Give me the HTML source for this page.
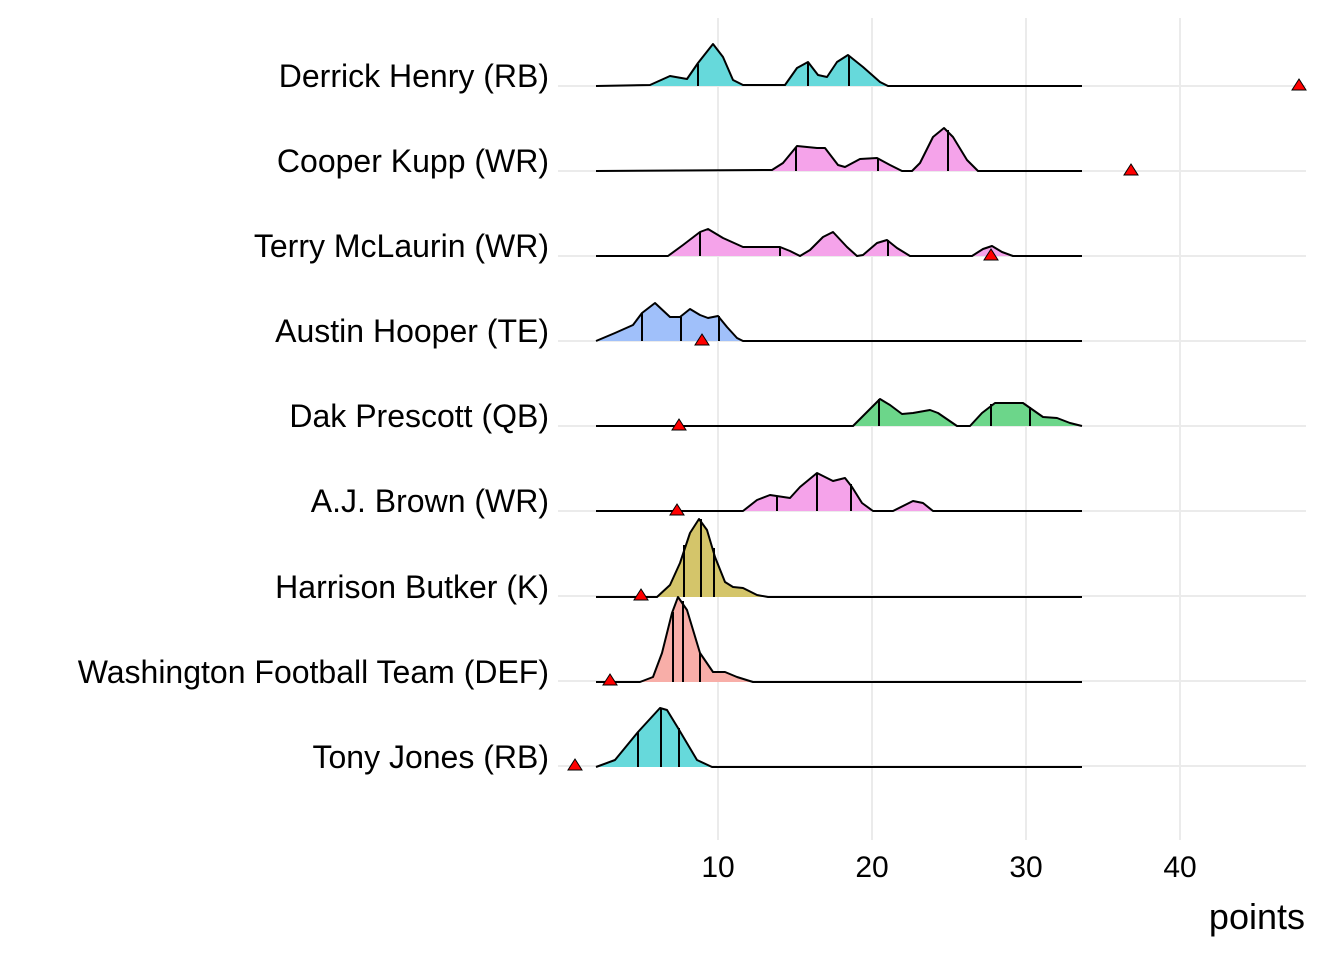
<!DOCTYPE html>
<html><head><meta charset="utf-8"><style>
html,body{margin:0;padding:0;background:#fff;}
svg{display:block;font-family:"Liberation Sans",Arial,sans-serif;}
</style></head><body>
<svg width="1344" height="960" viewBox="0 0 1344 960" xmlns="http://www.w3.org/2000/svg">
<g stroke="#ebebeb" stroke-width="2">
<line x1="718" y1="18" x2="718" y2="840"/><line x1="872" y1="18" x2="872" y2="840"/>
<line x1="1026" y1="18" x2="1026" y2="840"/><line x1="1180" y1="18" x2="1180" y2="840"/>
<line x1="558" y1="86" x2="1306" y2="86"/><line x1="558" y1="171" x2="1306" y2="171"/>
<line x1="558" y1="256" x2="1306" y2="256"/><line x1="558" y1="341" x2="1306" y2="341"/>
<line x1="558" y1="426" x2="1306" y2="426"/><line x1="558" y1="511" x2="1306" y2="511"/>
<line x1="558" y1="596" x2="1306" y2="596"/><line x1="558" y1="681" x2="1306" y2="681"/>
<line x1="558" y1="766" x2="1306" y2="766"/>
</g>
<g stroke="#000" stroke-width="2" stroke-linejoin="round">
<polyline fill="#66d9db" points="596,86 650,85 670,76 687,79 698,63 713,44 723,57 733,80 743,85 785,85 797,68 808,62 818,75 827,77 837,62 848,55 863,67 880,82 888,86 1082,86"/>
<line x1="698" y1="86" x2="698" y2="64"/><line x1="808" y1="86" x2="808" y2="62"/><line x1="849" y1="86" x2="849" y2="56"/>
<polyline fill="#f5a3ea" points="596,171 772,170 783,163 797,146 817,148 825,148 838,165 845,167 860,159 877,158 890,165 902,171 912,171 920,163 933,137 944,128 953,137 967,160 978,171 1082,171"/>
<line x1="796" y1="171" x2="796" y2="147"/><line x1="878" y1="171" x2="878" y2="158"/><line x1="948" y1="171" x2="948" y2="130"/>
<polyline fill="#f5a3ea" points="596,256 668,256 683,245 700,232 708,229 723,238 743,247 780,247 790,251 800,256 810,250 823,237 833,232 847,247 857,256 863,255 877,243 887,240 897,248 910,256 972,256 983,249 992,246 1002,252 1013,256 1082,256"/>
<line x1="700" y1="256" x2="700" y2="232"/><line x1="780" y1="256" x2="780" y2="247"/><line x1="888" y1="256" x2="888" y2="240"/>
<polyline fill="#a0c0fa" points="596,341 615,333 633,325 642,313 655,303 670,317 680,317 690,309 700,315 708,318 718,316 727,327 737,338 743,341 1082,341"/>
<line x1="642" y1="341" x2="642" y2="313"/><line x1="681" y1="341" x2="681" y2="317"/><line x1="719" y1="341" x2="719" y2="316"/>
<polyline fill="#6cd68a" points="596,426 853,426 867,412 880,399 890,405 902,414 913,413 930,410 938,413 957,426 970,426 982,413 995,403 1023,403 1033,410 1043,417 1057,418 1070,423 1082,426"/>
<line x1="879" y1="426" x2="879" y2="399"/><line x1="991" y1="426" x2="991" y2="404"/><line x1="1030" y1="426" x2="1030" y2="407"/>
<polyline fill="#f5a3ea" points="596,511 743,511 757,500 770,495 790,498 800,487 817,473 833,481 845,478 852,487 862,503 873,511 893,511 913,501 923,503 933,511 1082,511"/>
<line x1="777" y1="511" x2="777" y2="497"/><line x1="817" y1="511" x2="817" y2="473"/><line x1="851" y1="511" x2="851" y2="484"/>
<polyline fill="#d4c56a" points="596,597 657,597 670,585 680,563 690,533 699,519 707,530 715,557 725,582 733,587 743,588 757,595 768,597 1082,597"/>
<line x1="684" y1="597" x2="684" y2="545"/><line x1="701" y1="597" x2="701" y2="519"/><line x1="714" y1="597" x2="714" y2="548"/>
<polyline fill="#f8aea8" points="596,682 640,682 653,677 662,653 672,613 678,597 687,610 700,653 713,672 725,672 737,677 753,682 1082,682"/>
<line x1="673" y1="682" x2="673" y2="612"/><line x1="683" y1="682" x2="683" y2="601"/><line x1="700" y1="682" x2="700" y2="653"/>
<polyline fill="#66d9db" points="596,767 615,760 638,732 660,708 667,710 678,728 697,760 712,767 1082,767"/>
<line x1="638" y1="767" x2="638" y2="732"/><line x1="661" y1="767" x2="661" y2="708"/><line x1="679" y1="767" x2="679" y2="728"/>
</g>
<g fill="#f00" stroke="#000" stroke-width="1">
<polygon points="1299,79 1306,90 1292,90"/>
<polygon points="1131,164 1138,175 1124,175"/>
<polygon points="991,249 998,260 984,260"/>
<polygon points="702,334 709,345 695,345"/>
<polygon points="679,419 686,430 672,430"/>
<polygon points="677,504 684,515 670,515"/>
<polygon points="641,589 648,600 634,600"/>
<polygon points="610,674 617,685 603,685"/>
<polygon points="575,759 582,770 568,770"/>
</g>
<g font-size="32" fill="#000" text-anchor="end">
<text x="549" y="87">Derrick Henry (RB)</text>
<text x="549" y="172">Cooper Kupp (WR)</text>
<text x="549" y="257">Terry McLaurin (WR)</text>
<text x="549" y="342">Austin Hooper (TE)</text>
<text x="549" y="427">Dak Prescott (QB)</text>
<text x="549" y="512">A.J. Brown (WR)</text>
<text x="549" y="598">Harrison Butker (K)</text>
<text x="549" y="683">Washington Football Team (DEF)</text>
<text x="549" y="768">Tony Jones (RB)</text>
</g>
<g font-size="30" fill="#000" text-anchor="middle">
<text x="718" y="877">10</text><text x="872" y="877">20</text>
<text x="1026" y="877">30</text><text x="1180" y="877">40</text>
</g>
<text x="1305" y="929" font-size="36" text-anchor="end">points</text>
</svg>
</body></html>
